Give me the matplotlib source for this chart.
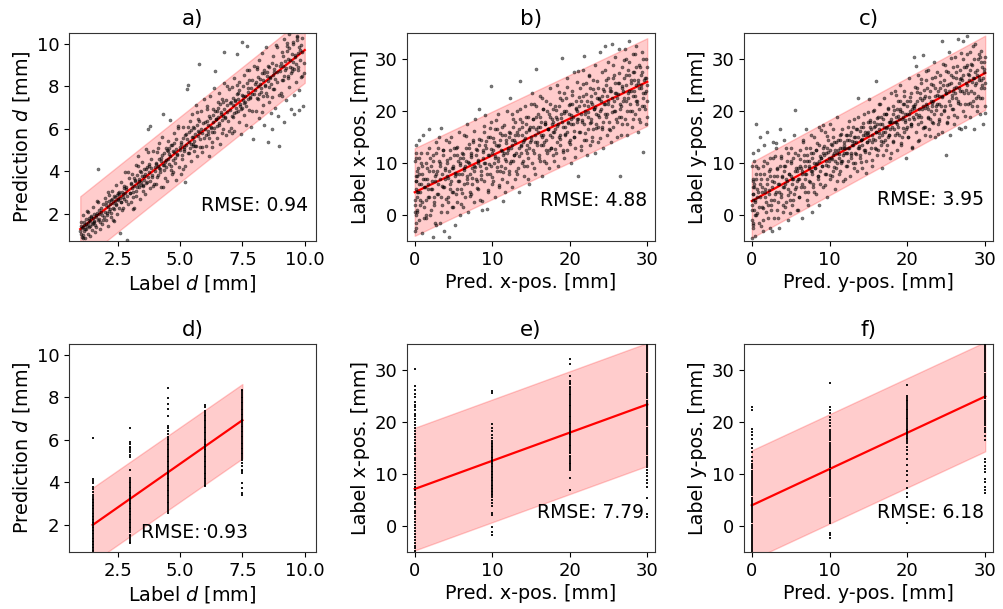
import matplotlib
matplotlib.use("Agg")
import matplotlib.pyplot as plt
import numpy as np

plt.rcParams['font.family'] = ['DejaVu Sans']

# ---------------- data: panel a (label d vs predicted d) ----------------
a_x = [1.02, 1.05, 1.07, 1.10, 1.13, 1.16, 1.19, 1.22, 1.25, 1.28, 1.31, 1.34, 1.38, 1.41, 1.45, 1.48, 1.52, 1.55, 1.58, 1.62, 1.65, 1.69, 1.72, 1.75, 1.79, 1.83, 1.87, 1.91, 1.95, 1.98,
       2.02, 2.05, 2.08, 2.12, 2.15, 2.18, 2.22, 2.25, 2.28, 2.32, 2.35, 2.38, 2.42, 2.45, 2.48, 2.52, 2.55, 2.58, 2.62, 2.65, 2.68, 2.72, 2.75, 2.78, 2.82, 2.85, 2.88, 2.92, 2.95, 2.98,
       3.02, 3.05, 3.08, 3.12, 3.15, 3.18, 3.22, 3.25, 3.28, 3.32, 3.35, 3.38, 3.42, 3.45, 3.48, 3.52, 3.55, 3.58, 3.62, 3.65, 3.68, 3.72, 3.75, 3.78, 3.80, 3.84, 3.88, 3.91, 3.95, 3.98,
       4.02, 4.05, 4.08, 4.12, 4.15, 4.18, 4.22, 4.25, 4.28, 4.32, 4.35, 4.38, 4.42, 4.45, 4.48, 4.52, 4.55, 4.58, 4.62, 4.65, 4.68, 4.72, 4.75, 4.78, 4.82, 4.85, 4.88, 4.92, 4.95, 4.98,
       5.02, 5.05, 5.08, 5.12, 5.15, 5.18, 5.21, 5.25, 5.28, 5.31, 5.35, 5.38, 5.42, 5.45, 5.48, 5.52, 5.55, 5.58, 5.62, 5.65, 5.68, 5.72, 5.75, 5.78, 5.81, 5.85, 5.88, 5.91, 5.95, 5.98,
       6.02, 6.05, 6.08, 6.12, 6.15, 6.18, 6.22, 6.25, 6.28, 6.32, 6.35, 6.38, 6.42, 6.45, 6.48, 6.52, 6.55, 6.58, 6.62, 6.65, 6.68, 6.72, 6.75, 6.78, 6.81, 6.85, 6.88, 6.91, 6.95, 6.98,
       7.02, 7.05, 7.08, 7.12, 7.15, 7.18, 7.22, 7.25, 7.28, 7.32, 7.35, 7.38, 7.42, 7.45, 7.48, 7.52, 7.55, 7.58, 7.62, 7.65, 7.68, 7.72, 7.75, 7.78, 7.81, 7.85, 7.88, 7.91, 7.95, 7.98,
       8.02, 8.05, 8.08, 8.12, 8.15, 8.18, 8.22, 8.25, 8.28, 8.32, 8.35, 8.38, 8.42, 8.45, 8.48, 8.52, 8.55, 8.58, 8.62, 8.65, 8.68, 8.72, 8.75, 8.78, 8.81, 8.85, 8.88, 8.91, 8.95, 8.98,
       9.02, 9.05, 9.08, 9.12, 9.15, 9.18, 9.22, 9.25, 9.28, 9.32, 9.35, 9.38, 9.42, 9.45, 9.48, 9.52, 9.55, 9.58, 9.62, 9.65, 9.68, 9.72, 9.75, 9.78, 9.81, 9.85, 9.88, 9.91, 9.95, 9.98]
a_y = [1.05, 1.62, 0.92, 1.40, 1.95, 1.18, 0.85, 1.55, 1.30, 2.15, 1.08, 1.70, 1.45, 0.98, 1.88, 1.25, 2.35, 1.60, 1.15, 1.95, 1.40, 2.60, 4.10, 1.75, 1.30, 2.10, 1.55, 2.45, 1.85, 2.75,
       1.70, 2.55, 2.05, 1.45, 2.90, 2.25, 1.85, 2.65, 3.10, 2.30, 1.65, 2.80, 2.45, 3.35, 2.00, 2.70, 3.05, 1.10, 2.55, 3.50, 2.20, 2.95, 3.30, 3.95, 2.60, 3.15, 0.78, 2.45, 3.70, 3.00,
       3.40, 2.55, 3.90, 3.05, 2.30, 3.60, 4.30, 2.85, 3.25, 4.70, 3.55, 2.70, 3.95, 3.35, 4.45, 3.10, 3.80, 2.95, 4.10, 5.05, 3.50, 6.00, 4.25, 3.20, 6.15, 4.60, 3.75, 4.95, 3.40, 4.20,
       4.35, 3.40, 4.90, 3.85, 5.35, 4.10, 3.25, 4.65, 5.60, 6.70, 4.30, 3.70, 5.10, 4.55, 3.55, 5.45, 4.80, 6.40, 4.05, 5.25, 3.90, 4.95, 5.80, 4.40, 3.60, 5.50, 4.75, 6.05, 4.20, 5.15,
       3.90, 5.40, 4.60, 6.10, 5.05, 4.25, 3.50, 5.75, 7.85, 8.05, 4.85, 6.35, 5.30, 4.50, 6.70, 5.60, 4.95, 6.05, 5.20, 7.10, 4.70, 6.45, 5.85, 9.05, 5.15, 6.85, 4.90, 6.25, 5.55, 7.40,
       6.30, 5.20, 7.05, 5.75, 6.60, 4.70, 7.55, 6.05, 5.40, 6.95, 7.90, 5.85, 8.70, 6.45, 5.55, 7.25, 6.20, 7.70, 5.30, 6.80, 7.40, 6.00, 8.15, 9.60, 6.55, 5.70, 7.10, 6.35, 7.85, 5.90,
       7.20, 6.05, 7.95, 6.55, 8.40, 5.90, 7.35, 6.80, 9.50, 7.70, 6.30, 8.20, 7.05, 5.75, 10.10, 7.55, 6.65, 8.55, 7.25, 6.20, 9.90, 7.90, 6.90, 8.75, 7.45, 6.10, 8.30, 5.50, 7.65, 8.95,
       8.10, 6.85, 8.80, 7.40, 9.25, 6.50, 8.35, 7.75, 9.55, 7.10, 8.60, 6.20, 8.00, 9.85, 7.55, 5.40, 8.90, 7.25, 8.45, 6.75, 6.00, 9.40, 7.85, 8.65, 7.00, 9.95, 8.20, 6.60, 7.60, 5.20,
       8.95, 7.70, 9.60, 8.30, 10.20, 6.30, 8.75, 7.35, 9.90, 8.50, 10.45, 7.95, 9.25, 6.95, 8.85, 10.10, 7.60, 6.70, 9.45, 8.20, 10.35, 8.90, 7.80, 6.90, 9.70, 8.45, 10.25, 7.05, 9.10, 8.60]
# second batch: the dense core close to the fit line
a_x2 = [1.01, 1.04, 1.07, 1.11, 1.14, 1.17, 1.21, 1.24, 1.27, 1.31, 1.34, 1.37, 1.41, 1.44, 1.47, 1.51, 1.54, 1.57, 1.61, 1.64, 1.67, 1.71, 1.74, 1.77, 1.81, 1.84, 1.87,
        2.01, 2.04, 2.07, 2.11, 2.14, 2.17, 2.21, 2.24, 2.27, 2.31, 2.34, 2.37, 2.41, 2.44, 2.47, 2.51, 2.54, 2.57, 2.61, 2.64, 2.67, 2.71, 2.74, 2.77, 2.81, 2.84, 2.87,
        3.01, 3.04, 3.07, 3.11, 3.14, 3.17, 3.21, 3.24, 3.27, 3.31, 3.34, 3.37, 3.41, 3.44, 3.47, 3.51, 3.54, 3.57, 3.61, 3.64, 3.67, 3.71, 3.74, 3.77, 3.81, 3.84, 3.87,
        4.01, 4.04, 4.07, 4.11, 4.14, 4.17, 4.21, 4.24, 4.27, 4.31, 4.34, 4.37, 4.41, 4.44, 4.47, 4.51, 4.54, 4.57, 4.61, 4.64, 4.67, 4.71, 4.74, 4.77, 4.81, 4.84, 4.87,
        5.01, 5.04, 5.07, 5.11, 5.14, 5.17, 5.21, 5.24, 5.27, 5.31, 5.34, 5.37, 5.41, 5.44, 5.47, 5.51, 5.54, 5.57, 5.61, 5.64, 5.67, 5.71, 5.74, 5.77, 5.81, 5.84, 5.87,
        6.01, 6.04, 6.07, 6.11, 6.14, 6.17, 6.21, 6.24, 6.27, 6.31, 6.34, 6.37, 6.41, 6.44, 6.47, 6.51, 6.54, 6.57, 6.61, 6.64, 6.67, 6.71, 6.74, 6.77, 6.81, 6.84, 6.87,
        7.01, 7.04, 7.07, 7.11, 7.14, 7.17, 7.21, 7.24, 7.27, 7.31, 7.34, 7.37, 7.41, 7.44, 7.47, 7.51, 7.54, 7.57, 7.61, 7.64, 7.67, 7.71, 7.74, 7.77, 7.81, 7.84, 7.87,
        8.01, 8.04, 8.07, 8.11, 8.14, 8.17, 8.21, 8.24, 8.27, 8.31, 8.34, 8.37, 8.41, 8.44, 8.47, 8.51, 8.54, 8.57, 8.61, 8.64, 8.67, 8.71, 8.74, 8.77, 8.81, 8.84, 8.87,
        9.01, 9.04, 9.07, 9.11, 9.14, 9.17, 9.21, 9.24, 9.27, 9.31, 9.34, 9.37, 9.41, 9.44, 9.47, 9.51, 9.54, 9.57, 9.61, 9.64, 9.67, 9.71, 9.74, 9.77, 9.81, 9.84, 9.87]
a_y2 = [1.20, 1.45, 1.35, 1.02, 1.60, 1.50, 1.28, 1.75, 1.42, 1.58, 1.80, 1.38, 1.68, 1.90, 1.52, 1.82, 1.65, 2.00, 1.48, 1.85, 2.05, 1.72, 1.98, 2.20, 1.62, 2.30, 1.95,
        2.10, 2.40, 1.95, 2.35, 2.60, 2.15, 2.45, 2.05, 2.70, 2.50, 2.25, 2.85, 2.60, 2.40, 2.90, 2.65, 2.30, 2.95, 2.75, 2.55, 3.05, 2.80, 3.20, 2.70, 3.00, 3.25, 2.85,
        3.00, 3.45, 3.20, 2.80, 3.70, 3.30, 3.55, 3.10, 3.85, 3.40, 3.65, 3.25, 4.00, 3.50, 3.80, 3.35, 4.10, 3.60, 3.90, 3.45, 4.20, 3.75, 4.35, 3.95, 3.55, 4.15, 3.85,
        4.00, 4.40, 3.75, 4.25, 4.60, 4.15, 3.95, 4.50, 4.75, 4.30, 4.05, 4.85, 4.45, 4.20, 5.00, 4.60, 4.35, 5.10, 4.70, 4.25, 5.25, 4.55, 4.90, 5.35, 4.65, 5.05, 4.80,
        5.00, 5.30, 4.75, 5.55, 5.15, 4.95, 5.70, 5.25, 5.50, 4.85, 5.85, 5.40, 5.10, 5.95, 5.60, 5.30, 6.10, 5.45, 5.75, 5.20, 6.20, 5.65, 5.90, 6.35, 5.50, 6.00, 5.80,
        6.00, 5.70, 6.35, 5.90, 6.20, 5.55, 6.50, 6.10, 5.85, 6.65, 6.30, 6.05, 6.85, 6.45, 6.15, 7.00, 6.55, 6.25, 7.15, 6.70, 6.40, 7.25, 6.60, 6.95, 6.50, 7.35, 6.80,
        6.90, 7.25, 6.60, 7.10, 7.45, 6.75, 7.30, 7.00, 7.65, 6.85, 7.40, 7.80, 7.15, 6.95, 7.60, 7.35, 8.00, 7.20, 7.55, 7.05, 8.15, 7.75, 7.40, 8.30, 7.50, 7.90, 7.65,
        7.80, 8.20, 7.45, 8.00, 8.45, 7.65, 8.10, 7.90, 8.60, 7.55, 8.30, 8.75, 8.05, 7.70, 8.50, 8.25, 8.95, 7.95, 8.40, 8.10, 9.10, 8.55, 7.85, 8.80, 8.35, 9.00, 8.65,
        8.70, 9.10, 8.30, 8.95, 9.40, 8.50, 9.20, 8.85, 9.65, 8.40, 9.30, 9.80, 8.90, 8.60, 9.50, 9.15, 10.00, 8.80, 9.35, 9.05, 10.15, 9.55, 8.75, 9.85, 9.25, 9.95, 9.60]
# third batch: mid spread
a_x3 = [1.1, 1.3, 1.5, 1.7, 1.9, 2.1, 2.3, 2.5, 2.7, 2.9, 3.1, 3.3, 3.5, 3.7, 3.9, 4.1, 4.3, 4.5, 4.7, 4.9, 5.1, 5.3, 5.5, 5.7, 5.9,
        6.1, 6.3, 6.5, 6.7, 6.9, 7.1, 7.3, 7.5, 7.7, 7.9, 8.1, 8.3, 8.5, 8.7, 8.9, 9.1, 9.3, 9.5, 9.7, 9.9]
a_y3 = [0.89, 2.07, 1.56, 2.55, 1.73, 3.02, 1.71, 2.99, 2.28, 3.97, 2.25, 4.24, 3.33, 4.91, 3.30, 5.09, 3.27, 4.96, 3.95, 6.13,
        4.12, 6.10, 5.19, 6.78, 5.16, 6.95, 5.14, 6.82, 5.81, 8.00, 5.78, 8.07, 6.96, 8.74, 6.83, 8.92, 6.80, 8.69, 7.48, 9.86,
        7.55, 10.04, 8.72, 10.31, 8.50]
a_fit_x = [1.0, 10.0]
a_fit_y = [1.29, 9.70]
a_band_lo = [-0.25, 8.16]
a_band_hi = [2.83, 11.24]

# ---------------- data: panel b (pred x-pos vs label x-pos) ----------------
b_x = [0.05, 0.1, 0.15, 0.2, 0.3, 0.35, 0.4, 0.5, 0.55, 0.6, 0.7, 0.8, 0.9, 1.0, 1.1, 1.2, 1.3, 1.4, 1.5, 1.6, 1.7, 1.8, 1.9, 2.0, 2.1, 2.2, 2.3, 2.4, 2.5, 2.6, 2.7, 2.8, 2.9,
       3.0, 3.1, 3.2, 3.3, 3.4, 3.5, 3.6, 3.7, 3.8, 3.9, 4.0, 4.1, 4.2, 4.3, 4.4, 4.5, 4.6, 4.7, 4.8, 4.9, 5.0, 5.1, 5.2, 5.3, 5.4, 5.5, 5.6, 5.7, 5.8, 5.9,
       6.0, 6.1, 6.2, 6.3, 6.4, 6.5, 6.6, 6.7, 6.8, 6.9, 7.0, 7.1, 7.2, 7.3, 7.4, 7.5, 7.6, 7.7, 7.8, 7.9, 8.0, 8.1, 8.2, 8.3, 8.4, 8.5, 8.6, 8.7, 8.8, 8.9,
       9.0, 9.1, 9.2, 9.3, 9.4, 9.5, 9.6, 9.7, 9.8, 9.9, 10.0, 10.1, 10.2, 10.3, 10.4, 10.5, 10.6, 10.7, 10.8, 10.9, 11.0, 11.1, 11.2, 11.3, 11.4, 11.5, 11.6, 11.7, 11.8, 11.9,
       12.0, 12.1, 12.2, 12.3, 12.4, 12.5, 12.6, 12.7, 12.8, 12.9, 13.0, 13.1, 13.2, 13.3, 13.4, 13.5, 13.6, 13.7, 13.8, 13.9, 14.0, 14.1, 14.2, 14.3, 14.4, 14.5, 14.6, 14.7, 14.8, 14.9,
       15.0, 15.1, 15.2, 15.3, 15.4, 15.5, 15.6, 15.7, 15.8, 15.9, 16.0, 16.1, 16.2, 16.3, 16.4, 16.5, 16.6, 16.7, 16.8, 16.9, 17.0, 17.1, 17.2, 17.3, 17.4, 17.5, 17.6, 17.7, 17.8, 17.9,
       18.0, 18.1, 18.2, 18.3, 18.4, 18.5, 18.6, 18.7, 18.8, 18.9, 19.0, 19.1, 19.2, 19.3, 19.4, 19.5, 19.6, 19.7, 19.8, 19.9, 20.0, 20.1, 20.2, 20.3, 20.4, 20.5, 20.6, 20.7, 20.8, 20.9,
       21.0, 21.1, 21.2, 21.3, 21.4, 21.5, 21.6, 21.7, 21.8, 21.9, 22.0, 22.1, 22.2, 22.3, 22.4, 22.5, 22.6, 22.7, 22.8, 22.9, 23.0, 23.1, 23.2, 23.3, 23.4, 23.5, 23.6, 23.7, 23.8, 23.9,
       24.0, 24.1, 24.2, 24.3, 24.4, 24.5, 24.6, 24.7, 24.8, 24.9, 25.0, 25.1, 25.2, 25.3, 25.4, 25.5, 25.6, 25.7, 25.8, 25.9, 26.0, 26.1, 26.2, 26.3, 26.4, 26.5, 26.6, 26.7, 26.8, 26.9,
       27.0, 27.1, 27.2, 27.3, 27.4, 27.5, 27.6, 27.7, 27.8, 27.9, 28.0, 28.1, 28.2, 28.3, 28.4, 28.5, 28.6, 28.7, 28.8, 28.9, 29.0, 29.1, 29.2, 29.3, 29.4, 29.5, 29.6, 29.7, 29.8, 29.9,
       29.95, 30.0, 29.97]
b_y = [2.0, 7.5, -2.5, 11.0, 4.5, 0.5, 9.0, 14.5, -1.0, 6.0, 3.0, 12.0, -3.5, 8.0, 15.5, 1.5, 5.5, 10.0, -0.5, 7.0, 3.5, 13.0, 16.5, 0.0, 9.5, 5.0, -4.2, 11.5, 2.5, 6.5, 14.0, -2.0, 8.5,
       4.0, 10.5, -1.5, 7.0, 16.8, 2.0, 12.5, 5.5, -3.0, 9.0, 14.5, 0.5, 7.5, 3.5, -4.3, 11.0, 6.0, 15.0, 1.5, 9.5, 4.5, 13.0, -2.0, 8.0, 2.5, 11.5, 6.5, 16.0, 0.0, 10.0,
       5.0, 12.0, 1.5, 9.0, 15.5, 3.5, 10.5, 7.0, 17.5, 0.5, 13.0, 8.0, 4.0, 11.5, 6.0, 14.0, 2.5, 9.5, 18.5, 7.0, 12.5, 5.0, 10.0, 20.5, 3.0, 14.5, 8.5, 1.0, 11.0, 16.0,
       6.5, 13.5, 9.0, 1.2, 15.0, 4.5, 11.5, 8.0, 18.0, 24.9, 6.0, 12.5, 10.0, 16.5, 3.5, 13.5, 8.5, 19.5, 11.0, 5.5, 14.5, 9.5, 17.0, 7.0, 2.8, 12.0, 15.5, 4.5, 10.5, 20.0,
       13.0, 8.0, 16.0, 22.5, 10.5, 5.5, 14.5, 18.5, 11.5, 7.0, 15.5, 12.0, 20.0, 9.0, 16.5, 4.5, 25.8, 13.5, 10.0, 18.0, 14.0, 7.5, 21.0, 12.5, 16.0, 9.5, 19.0, 13.0, 6.0, 17.0,
       15.0, 10.0, 18.5, 12.5, 21.5, 8.0, 16.5, 28.1, 14.0, 19.5, 11.0, 17.0, 23.0, 13.5, 7.5, 15.5, 20.5, 10.5, 18.0, 14.5, 22.0, 12.0, 16.5, 9.0, 19.0, 24.5, 13.0, 17.5, 11.5, 20.5,
       16.0, 21.0, 12.0, 18.5, 25.0, 9.5, 15.0, 22.5, 13.5, 19.5, 30.3, 17.0, 11.0, 23.5, 15.5, 20.0, 26.5, 12.5, 18.0, 14.0, 21.5, 17.5, 10.0, 24.0, 19.0, 15.0, 27.5, 13.0, 22.0, 18.5,
       20.0, 7.6, 16.0, 24.5, 12.5, 22.0, 18.0, 28.0, 14.5, 30.6, 19.5, 25.5, 11.5, 21.0, 16.5, 27.0, 13.5, 23.0, 18.5, 15.0, 26.0, 20.5, 12.0, 29.0, 17.5, 22.5, 14.0, 24.5, 19.0, 31.5,
       22.0, 16.5, 27.5, 13.0, 24.0, 32.5, 19.5, 26.0, 15.5, 21.5, 29.5, 18.0, 24.5, 14.0, 33.0, 22.5, 17.0, 27.0, 20.0, 30.5, 23.5, 15.0, 25.5, 19.0, 32.0, 7.6, 21.0, 28.5, 17.5, 24.0,
       26.5, 18.5, 30.0, 22.0, 15.5, 28.0, 24.0, 33.5, 20.0, 26.0, 17.0, 31.0, 23.0, 27.5, 19.5, 25.0, 32.5, 21.5, 16.0, 29.0, 24.5, 18.0, 27.0, 31.5, 22.5, 12.1, 26.0, 20.5, 30.0, 17.5,
       25.0, 22.0, 28.5]
# second batch (core + points piled at the left edge)
b_x2 = [0.02, 0.08, 0.12, 0.18, 0.22, 0.25, 0.28, 0.03, 0.10, 0.15,
        0.05, 0.2, 0.35, 0.5, 0.65, 0.8, 0.95, 1.1, 1.25, 1.4, 1.55, 1.7, 1.85, 2.0, 2.15, 2.3, 2.45, 2.6, 2.75, 2.9,
        3.05, 3.2, 3.35, 3.5, 3.65, 3.8, 3.95, 4.1, 4.25, 4.4, 4.55, 4.7, 4.85, 5.0, 5.15, 5.3, 5.45, 5.6, 5.75, 5.9,
        6.05, 6.2, 6.35, 6.5, 6.65, 6.8, 6.95, 7.1, 7.25, 7.4, 7.55, 7.7, 7.85, 8.0, 8.15, 8.3, 8.45, 8.6, 8.75, 8.9,
        9.05, 9.2, 9.35, 9.5, 9.65, 9.8, 9.95, 10.1, 10.25, 10.4, 10.55, 10.7, 10.85, 11.0, 11.15, 11.3, 11.45, 11.6, 11.75, 11.9,
        12.05, 12.2, 12.35, 12.5, 12.65, 12.8, 12.95, 13.1, 13.25, 13.4, 13.55, 13.7, 13.85, 14.0, 14.15, 14.3, 14.45, 14.6, 14.75, 14.9,
        15.05, 15.2, 15.35, 15.5, 15.65, 15.8, 15.95, 16.1, 16.25, 16.4, 16.55, 16.7, 16.85, 17.0, 17.15, 17.3, 17.45, 17.6, 17.75, 17.9,
        18.05, 18.2, 18.35, 18.5, 18.65, 18.8, 18.95, 19.1, 19.25, 19.4, 19.55, 19.7, 19.85, 20.0, 20.15, 20.3, 20.45, 20.6, 20.75, 20.9,
        21.05, 21.2, 21.35, 21.5, 21.65, 21.8, 21.95, 22.1, 22.25, 22.4, 22.55, 22.7, 22.85, 23.0, 23.15, 23.3, 23.45, 23.6, 23.75, 23.9,
        24.05, 24.2, 24.35, 24.5, 24.65, 24.8, 24.95, 25.1, 25.25, 25.4, 25.55, 25.7, 25.85, 26.0, 26.15, 26.3, 26.45, 26.6, 26.75, 26.9,
        27.05, 27.2, 27.35, 27.5, 27.65, 27.8, 27.95, 28.1, 28.25, 28.4, 28.55, 28.7, 28.85, 29.0, 29.15, 29.3, 29.45, 29.6, 29.75, 29.9]
b_y2 = [-3.0, 10.5, 5.0, -1.5, 13.5, 3.5, 8.5, 0.5, 12.0, 6.5,
        3.0, 6.5, 1.0, 8.0, 4.5, 10.0, 2.5, 7.0, 5.5, 0.0, 9.0, 6.0, 3.5, 11.0, 5.0, 8.5, 2.0, 7.5, 12.0, 4.0,
        6.0, 9.5, 3.5, 8.0, 11.5, 5.5, 7.0, 10.0, 2.5, 8.5, 12.5, 6.5, 4.5, 9.0, 7.5, 13.0, 5.0, 10.5, 8.0, 11.0,
        8.0, 11.0, 6.0, 9.5, 13.0, 7.5, 10.0, 4.5, 12.0, 9.0, 14.5, 8.5, 11.5, 6.5, 10.5, 13.5, 9.5, 7.0, 12.5, 10.0,
        10.0, 13.0, 8.0, 11.5, 15.0, 9.5, 12.0, 6.5, 14.0, 11.0, 16.5, 10.5, 13.5, 8.5, 12.5, 15.5, 11.5, 9.0, 14.5, 12.0,
        12.5, 15.0, 10.0, 13.5, 17.0, 11.5, 14.0, 8.5, 16.0, 13.0, 18.5, 12.0, 15.5, 10.5, 14.5, 17.5, 13.5, 11.0, 16.5, 14.0,
        14.5, 17.0, 12.0, 15.5, 19.0, 13.5, 16.0, 10.5, 18.0, 15.0, 20.5, 14.0, 17.5, 12.5, 16.5, 19.5, 15.5, 13.0, 18.5, 16.0,
        16.5, 19.0, 14.0, 17.5, 21.0, 15.5, 18.0, 12.5, 20.0, 17.0, 22.5, 16.0, 19.5, 14.5, 18.5, 21.5, 17.5, 15.0, 20.5, 18.0,
        18.5, 21.0, 16.0, 19.5, 23.0, 17.5, 20.0, 14.5, 22.0, 19.0, 24.5, 18.0, 21.5, 16.5, 20.5, 23.5, 19.5, 17.0, 22.5, 20.0,
        20.5, 23.0, 18.0, 21.5, 25.0, 19.5, 22.0, 16.5, 24.0, 21.0, 26.5, 20.0, 23.5, 18.5, 22.5, 25.5, 21.5, 19.0, 24.5, 22.0,
        22.5, 25.0, 20.0, 23.5, 27.0, 21.5, 24.0, 18.5, 26.0, 23.0, 28.5, 22.0, 25.5, 20.5, 24.5, 27.5, 23.5, 21.0, 26.5, 24.0]
# third batch (wider spread)
b_x3 = [0.1, 0.25, 0.4, 0.55, 0.7, 0.85, 1.0, 1.15, 1.3, 1.45, 1.6, 1.75, 1.9, 2.05, 2.2, 2.35, 2.5, 2.65, 2.8, 2.95,
        3.1, 3.25, 3.4, 3.55, 3.7, 3.85, 4.0, 4.15, 4.3, 4.45, 4.6, 4.75, 4.9, 5.05, 5.2, 5.35, 5.5, 5.65, 5.8, 5.95,
        6.1, 6.25, 6.4, 6.55, 6.7, 6.85, 7.0, 7.15, 7.3, 7.45, 7.6, 7.75, 7.9, 8.05, 8.2, 8.35, 8.5, 8.65, 8.8, 8.95,
        9.1, 9.25, 9.4, 9.55, 9.7, 9.85, 10.0, 10.15, 10.3, 10.45, 10.6, 10.75, 10.9, 11.05, 11.2, 11.35, 11.5, 11.65, 11.8, 11.95,
        12.1, 12.25, 12.4, 12.55, 12.7, 12.85, 13.0, 13.15, 13.3, 13.45, 13.6, 13.75, 13.9, 14.05, 14.2, 14.35, 14.5, 14.65, 14.8, 14.95,
        15.1, 15.25, 15.4, 15.55, 15.7, 15.85, 16.0, 16.15, 16.3, 16.45, 16.6, 16.75, 16.9, 17.05, 17.2, 17.35, 17.5, 17.65, 17.8, 17.95,
        18.1, 18.25, 18.4, 18.55, 18.7, 18.85, 19.0, 19.15, 19.3, 19.45, 19.6, 19.75, 19.9, 20.05, 20.2, 20.35, 20.5, 20.65, 20.8, 20.95,
        21.1, 21.25, 21.4, 21.55, 21.7, 21.85, 22.0, 22.15, 22.3, 22.45, 22.6, 22.75, 22.9, 23.05, 23.2, 23.35, 23.5, 23.65, 23.8, 23.95,
        24.1, 24.25, 24.4, 24.55, 24.7, 24.85, 25.0, 25.15, 25.3, 25.45, 25.6, 25.75, 25.9, 26.05, 26.2, 26.35, 26.5, 26.65, 26.8, 26.95,
        27.1, 27.25, 27.4, 27.55, 27.7, 27.85, 28.0, 28.15, 28.3, 28.45, 28.6, 28.75, 28.9, 29.05, 29.2, 29.35, 29.5, 29.65, 29.8, 29.95]
b_y3 = [0.0, 7.5, 4.5, 11.0, 2.0, 6.0, 9.5, -0.5, 7.0, 3.0, 12.0, 5.0, 8.5, 1.0, 6.5, 10.5, 3.5, -1.5, 8.0, 13.0,
        15.1, 10.1, 0.6, 5.6, 12.6, 8.6, 3.1, 10.6, 7.1, 14.1, 5.1, 9.1, 1.6, 11.6, 8.1, 4.1, 13.1, 6.6, 9.6, 2.1,
        4.2, 11.7, 8.7, 15.2, 6.2, 10.2, 13.7, 3.7, 11.2, 7.2, 16.2, 9.2, 12.7, 5.2, 10.7, 14.7, 7.7, 2.7, 12.2, 17.2,
        19.3, 14.3, 4.8, 9.8, 16.8, 12.8, 7.3, 14.8, 11.3, 18.3, 9.3, 13.3, 5.8, 15.8, 12.3, 8.3, 17.3, 10.8, 13.8, 6.3,
        8.4, 15.9, 12.9, 19.4, 10.4, 14.4, 17.9, 7.9, 15.4, 11.4, 20.4, 13.4, 16.9, 9.4, 14.9, 18.9, 11.9, 6.9, 16.4, 21.4,
        23.5, 18.5, 9.0, 14.0, 21.0, 17.0, 11.5, 19.0, 15.5, 22.5, 13.5, 17.5, 10.0, 20.0, 16.5, 12.5, 21.5, 15.0, 18.0, 10.5,
        12.7, 20.2, 17.2, 23.7, 14.7, 18.7, 22.2, 12.2, 19.7, 15.7, 24.7, 17.7, 21.2, 13.7, 19.2, 23.2, 16.2, 11.2, 20.7, 25.7,
        27.8, 22.8, 13.3, 18.3, 25.3, 21.3, 15.8, 23.3, 19.8, 26.8, 17.8, 21.8, 14.3, 24.3, 20.8, 16.8, 25.8, 19.3, 22.3, 14.8,
        16.9, 24.4, 21.4, 27.9, 18.9, 22.9, 26.4, 16.4, 23.9, 19.9, 28.9, 21.9, 25.4, 17.9, 23.4, 27.4, 20.4, 15.4, 24.9, 29.9,
        32.0, 27.0, 17.5, 22.5, 29.5, 25.5, 20.0, 27.5, 24.0, 31.0, 22.0, 26.0, 18.5, 28.5, 25.0, 21.0, 30.0, 23.5, 26.5, 19.0]
b_fit_x = [0.0, 30.0]
b_fit_y = [4.4, 25.7]
b_band_lo = [-4.0, 17.2]
b_band_hi = [12.9, 34.1]

# ---------------- data: panel c (pred y-pos vs label y-pos) ----------------
c_x = list(b_x)
c_y = [1.0, 6.5, -2.0, 4.0, 10.5, -4.0, 2.5, 17.5, 8.0, 0.0, 5.0, 12.5, -1.5, 3.5, 15.0, 7.0, 1.5, 9.5, -3.0, 13.5, 4.5, 0.5, 6.0, 16.0, 2.0, 8.5, -2.5, 11.0, 3.0, 5.5, 14.0, -0.5, 7.5,
       4.0, 13.0, 1.0, 9.0, 6.0, -2.5, 16.5, 3.5, 11.0, 7.5, 0.5, 5.5, 14.5, 9.5, 2.5, 6.5, 12.0, -1.0, 8.0, 4.5, 13.0, 10.0, 2.0, 7.0, 15.5, 20.3, 5.0, 9.0, 1.0, 11.5,
       7.0, 3.5, 12.5, 9.0, -0.5, 6.0, 14.0, 10.5, 4.5, 8.0, 16.5, 11.5, 2.0, 9.5, 6.5, 13.0, 8.5, 0.5, 11.0, 5.5, 15.0, 9.0, 12.5, 4.0, 10.0, 7.5, 17.0, 13.5, 6.0, 11.0,
       9.5, 13.0, 5.5, 11.5, 16.0, 8.0, 12.0, 3.5, 14.5, 10.5, 7.0, 17.5, 11.0, 13.5, 8.5, 15.0, 12.0, 5.0, 14.0, 10.0, 19.0, 12.5, 8.0, 15.5, 13.0, 10.5, 16.5, 6.5, 14.0, 12.0,
       13.0, 15.5, 9.5, 12.0, 17.0, 14.5, 7.5, 11.5, 16.0, 13.5, 10.0, 18.5, 14.0, 12.0, 16.5, 8.5, 15.0, 22.5, 13.0, 11.0, 17.0, 14.5, 9.0, 15.5, 19.5, 12.5, 16.0, 10.5, 14.0, 18.0,
       15.5, 12.0, 18.0, 16.5, 9.5, 14.0, 20.0, 17.0, 13.0, 25.8, 16.0, 11.5, 19.0, 15.0, 21.5, 17.5, 13.5, 9.0, 18.5, 16.0, 22.5, 14.5, 19.5, 12.5, 17.0, 20.5, 15.5, 11.0, 18.0, 23.5,
       18.0, 14.0, 21.0, 16.5, 24.0, 19.0, 12.5, 17.5, 22.0, 15.5, 20.5, 25.0, 13.5, 18.5, 21.5, 16.0, 23.0, 19.5, 11.0, 17.0, 22.0, 15.0, 26.5, 20.0, 17.5, 23.5, 13.0, 21.0, 30.5, 18.5,
       21.5, 16.0, 24.5, 19.0, 27.0, 14.5, 22.5, 18.0, 25.5, 20.5, 30.8, 17.0, 23.0, 15.5, 26.0, 21.0, 19.0, 28.0, 16.5, 24.0, 20.0, 26.5, 18.0, 22.0, 29.5, 15.0, 24.5, 21.0, 27.5, 17.5,
       23.0, 18.5, 27.0, 21.0, 33.5, 16.0, 25.0, 20.0, 29.0, 11.5, 23.5, 18.0, 27.5, 22.0, 31.5, 15.5, 25.5, 20.5, 28.5, 24.0, 17.5, 30.5, 22.5, 26.5, 19.0, 34.0, 24.5, 21.5, 28.0, 16.5,
       26.0, 20.0, 30.0, 23.5, 17.0, 28.5, 25.0, 34.5, 21.5, 27.0, 19.0, 31.5, 24.0, 29.0, 22.0, 26.5, 16.5, 33.0, 25.5, 21.0, 28.0, 23.0, 31.0, 19.5, 26.0, 29.5, 22.5, 17.5, 27.5, 24.5,
       21.0, 30.5, 25.5]
c_x2 = list(b_x2)
c_y2 = [-4.5, 9.5, 3.0, -2.5, 12.0, 1.0, 5.5, -1.0, 7.0, 4.0,
        2.0, 5.5, 0.0, 7.0, 3.5, 9.0, 1.5, 6.0, 4.5, -1.0, 8.0, 5.0, 2.5, 10.0, 4.0, 7.5, 1.0, 6.5, 11.0, 3.0,
        4.5, 7.5, 2.5, 6.0, 9.5, 4.0, 5.5, 8.5, 1.5, 7.0, 10.5, 5.0, 3.0, 7.5, 6.0, 11.0, 4.0, 8.5, 6.5, 9.0,
        7.0, 9.5, 5.5, 8.5, 11.5, 7.0, 8.0, 10.5, 4.5, 9.0, 12.0, 8.0, 6.0, 10.0, 9.0, 12.5, 7.5, 10.5, 8.5, 11.0,
        9.5, 12.0, 8.0, 10.5, 13.0, 9.5, 11.0, 12.5, 7.5, 11.5, 14.0, 10.5, 9.0, 12.0, 11.0, 14.5, 10.0, 13.0, 11.5, 13.5,
        12.0, 14.5, 10.5, 13.0, 15.5, 12.0, 13.5, 15.0, 10.0, 14.0, 16.5, 13.0, 11.5, 14.5, 13.5, 17.0, 12.5, 15.5, 14.0, 16.0,
        14.5, 17.0, 13.0, 15.5, 18.0, 14.5, 16.0, 17.5, 12.5, 16.5, 19.0, 15.5, 14.0, 17.0, 16.0, 19.5, 15.0, 18.0, 16.5, 18.5,
        17.0, 19.5, 15.5, 18.0, 20.5, 17.0, 18.5, 20.0, 15.0, 19.0, 21.5, 18.0, 16.5, 19.5, 18.5, 22.0, 17.5, 20.5, 19.0, 21.0,
        19.5, 22.0, 17.5, 20.5, 23.5, 19.0, 21.0, 22.5, 17.0, 21.5, 24.5, 20.5, 18.5, 22.0, 21.0, 25.0, 19.5, 23.0, 21.5, 24.0,
        21.5, 24.5, 19.5, 23.0, 26.0, 21.0, 23.5, 25.0, 19.0, 24.0, 27.0, 22.5, 20.5, 24.5, 23.5, 27.5, 22.0, 25.5, 24.0, 26.5,
        24.0, 27.0, 21.5, 25.5, 29.0, 23.5, 26.0, 28.0, 21.0, 26.5, 30.0, 25.0, 22.5, 27.0, 26.0, 30.5, 24.5, 28.5, 26.5, 29.5]
c_x3 = list(b_x3)
c_y3 = [-1.6, 5.9, 2.9, 9.4, 0.4, 4.4, 7.9, -2.1, 5.4, 1.4, 10.4, 3.4, 6.9, -0.6, 4.9, 8.9, 1.9, -3.1, 6.4, 11.4,
        13.9, 8.9, -0.6, 4.4, 11.4, 7.4, 1.9, 9.4, 5.9, 12.9, 3.9, 7.9, 0.4, 10.4, 6.9, 2.9, 11.9, 5.4, 8.4, 0.9,
        3.4, 10.9, 7.9, 14.4, 5.4, 9.4, 12.9, 2.9, 10.4, 6.4, 15.4, 8.4, 11.9, 4.4, 9.9, 13.9, 6.9, 1.9, 11.4, 16.4,
        17.3, 13.3, 5.7, 9.7, 15.3, 12.1, 7.7, 13.7, 10.9, 16.5, 9.3, 12.5, 6.5, 14.5, 11.7, 8.5, 15.7, 10.5, 12.9, 6.9,
        9.4, 15.4, 13.0, 18.2, 11.0, 14.2, 17.0, 9.0, 15.0, 11.8, 19.0, 13.4, 16.2, 10.2, 14.6, 17.8, 12.2, 8.2, 15.8, 19.8,
        22.3, 18.3, 10.7, 14.7, 20.3, 17.1, 12.7, 18.7, 15.9, 21.5, 14.3, 17.5, 11.5, 19.5, 16.7, 13.5, 20.7, 15.5, 17.9, 11.9,
        14.3, 20.3, 17.9, 23.1, 15.9, 19.1, 21.9, 13.9, 19.9, 16.7, 23.9, 18.3, 21.1, 15.1, 19.5, 22.7, 17.1, 13.1, 20.7, 24.7,
        28.7, 23.7, 14.2, 19.2, 26.2, 22.2, 16.7, 24.2, 20.7, 27.7, 18.7, 22.7, 15.2, 25.2, 21.7, 17.7, 26.7, 20.2, 23.2, 15.7,
        18.2, 25.7, 22.7, 29.2, 20.2, 24.2, 27.7, 17.7, 25.2, 21.2, 30.2, 23.2, 26.7, 19.2, 24.7, 28.7, 21.7, 16.7, 26.2, 31.2,
        33.6, 28.6, 19.1, 24.1, 31.1, 27.1, 21.6, 29.1, 25.6, 32.6, 23.6, 27.6, 20.1, 30.1, 26.6, 22.6, 31.6, 25.1, 28.1, 19.6]
c_fit_x = [0.0, 30.0]
c_fit_y = [2.7, 27.4]
c_band_lo = [-4.4, 20.3]
c_band_hi = [10.2, 34.6]

# ---------------- data: panel d (discrete label d) ----------------
d_levels = [1.5, 3.0, 4.5, 6.0, 7.5]
d_y_15 = [0.76, 0.83, 0.9, 0.98, 1.04, 1.12, 1.19, 1.26, 1.34, 1.41, 1.48, 1.56, 1.63, 1.7, 1.78, 1.85, 1.92, 2.0, 2.07, 2.14, 2.22, 2.29,
          2.36, 2.44, 2.51, 2.58, 2.66, 2.73, 2.8, 2.88, 2.95, 3.02, 3.1, 3.17, 3.24, 3.31, 3.42, 3.55, 3.68, 3.8, 3.95, 4.08, 4.15, 6.07]
d_y_30 = [1.14, 1.22, 1.3, 1.38, 1.47, 1.55, 1.66, 1.75, 1.84, 1.92, 2.0, 2.07, 2.15, 2.22, 2.3, 2.37, 2.45, 2.52, 2.6, 2.67, 2.75, 2.82,
          2.9, 2.97, 3.05, 3.12, 3.2, 3.27, 3.35, 3.42, 3.5, 3.57, 3.65, 3.72, 3.8, 3.87, 3.95, 4.02, 4.1, 4.2, 4.58, 5.18, 5.3, 5.42,
          5.5, 5.6, 5.68, 5.78, 5.88, 6.55]
d_y_45 = [2.55, 2.65, 2.75, 2.86, 2.94, 3.02, 3.1, 3.18, 3.26, 3.34, 3.42, 3.5, 3.58, 3.66, 3.74, 3.82, 3.9, 3.98, 4.06, 4.14, 4.22, 4.3,
          4.38, 4.46, 4.54, 4.62, 4.7, 4.78, 4.86, 4.94, 5.02, 5.1, 5.18, 5.26, 5.34, 5.42, 5.5, 5.58, 5.66, 5.74, 5.82, 5.9, 5.98, 6.06,
          6.14, 6.25, 6.4, 6.55, 6.65, 7.1, 7.45, 7.7, 7.95, 8.42]
d_y_60 = [1.8, 3.82, 3.9, 3.98, 4.06, 4.14, 4.22, 4.3, 4.38, 4.46, 4.54, 4.62, 4.7, 4.78, 4.86, 4.94, 5.02, 5.1, 5.18, 5.26, 5.34, 5.42,
          5.5, 5.58, 5.66, 5.74, 5.82, 5.9, 5.98, 6.06, 6.14, 6.22, 6.3, 6.38, 6.46, 6.54, 6.62, 6.7, 6.78, 6.86, 6.94, 7.02, 7.1, 7.18,
          7.26, 7.34, 7.55, 7.62]
d_y_75 = [3.42, 3.48, 3.72, 3.96, 4.45, 4.52, 4.6, 4.75, 4.9, 5.05, 5.15, 5.23, 5.31, 5.39, 5.47, 5.55, 5.63, 5.71, 5.79, 5.87, 5.95, 6.03,
          6.11, 6.19, 6.27, 6.35, 6.43, 6.51, 6.59, 6.67, 6.75, 6.83, 6.91, 6.99, 7.07, 7.15, 7.23, 7.31, 7.39, 7.47, 7.55, 7.63, 7.71,
          7.79, 7.87, 7.95, 8.03, 8.11, 8.19, 8.27, 8.34]
d_fit_x = [1.5, 7.5]
d_fit_y = [2.0, 6.92]
d_band_lo = [0.25, 5.12]
d_band_hi = [3.75, 8.62]

# ---------------- data: panel e (discrete pred x-pos) ----------------
e_levels = [0.0, 10.0, 20.0, 30.0]
e_y_0 = [-4.9, -4.3, -3.8, -3.2, -2.6, -2.1, -1.5, -0.9, -0.4, 0.2, 0.8, 1.3, 1.9, 2.5, 3.0, 3.6, 4.2, 4.7, 5.3, 5.9, 6.4, 7.0, 7.6,
         8.1, 8.7, 9.3, 9.8, 10.4, 11.0, 11.5, 12.1, 12.7, 13.2, 13.8, 14.4, 14.9, 15.5, 16.1, 16.6, 17.2, 17.8, 18.3, 18.9, 19.5, 20.0,
         20.6, 21.2, 21.7, 22.3, 22.9, 23.4, 24.0, 24.8, 25.5, 26.3, 27.0, 30.3]
e_y_10 = [-1.7, -1.2, -0.1, 2.1, 2.6, 3.8, 4.5, 5.0, 5.6, 5.9, 6.2, 6.5, 6.8, 7.1, 7.4, 7.7, 8.0, 8.3, 8.6, 8.9, 9.2, 9.5, 9.8, 10.1,
          10.4, 10.7, 11.0, 11.3, 11.6, 11.9, 12.2, 12.5, 12.8, 13.1, 13.4, 13.7, 14.0, 14.3, 14.6, 14.9, 15.2, 15.5, 15.8, 16.1, 16.4,
          17.0, 17.6, 18.3, 18.9, 19.7, 25.6, 26.1]
e_y_20 = [6.9, 9.2, 10.8, 11.2, 11.5, 11.9, 12.2, 12.6, 12.9, 13.3, 13.6, 14.0, 14.3, 14.7, 15.0, 15.4, 15.7, 16.1, 16.4, 16.8, 17.1,
          17.5, 17.8, 18.2, 18.5, 18.9, 19.2, 19.6, 19.9, 20.3, 20.6, 21.0, 21.3, 21.7, 22.0, 22.4, 22.7, 23.1, 23.4, 23.8, 24.1, 24.5,
          24.8, 25.2, 25.5, 25.9, 26.2, 26.6, 26.9, 27.3, 27.6, 28.0, 28.9, 31.3, 32.2]
e_y_30 = [1.8, 2.4, 5.4, 7.5, 8.3, 8.9, 9.6, 10.3, 10.9, 11.4, 11.8, 12.2, 12.6, 13.0, 13.4, 13.8, 14.2, 14.6, 15.0, 15.4, 15.8, 16.2,
          16.6, 17.0, 17.4, 17.8, 18.2, 18.6, 19.0, 19.4, 19.8, 20.2, 20.6, 21.0, 21.4, 21.8, 22.2, 22.6, 23.0, 23.4, 23.8, 24.2, 24.6,
          25.0, 25.4, 25.8, 26.2, 26.6, 27.0, 27.4, 27.8, 28.2, 28.6, 29.0, 29.4, 29.8, 30.2, 30.6, 31.0, 31.4, 31.8, 32.2, 32.6, 33.0,
          33.4, 33.8, 34.2, 34.6, 35.0]
e_fit_x = [0.0, 30.0]
e_fit_y = [7.15, 23.45]
e_band_lo = [-4.7, 11.6]
e_band_hi = [18.95, 35.3]

# ---------------- data: panel f (discrete pred y-pos) ----------------
f_levels = [0.0, 10.0, 20.0, 30.0]
f_y_0 = [-4.9, -4.5, -4.1, -3.7, -3.3, -2.9, -2.5, -2.1, -1.7, -1.3, -0.9, -0.5, -0.1, 0.3, 0.7, 1.1, 1.5, 1.9, 2.3, 2.7, 3.1, 3.5,
         3.9, 4.3, 4.7, 5.1, 5.5, 5.9, 6.3, 6.7, 7.1, 7.5, 7.9, 8.3, 8.7, 9.1, 9.5, 9.9, 10.3, 10.7, 11.1, 11.5, 11.9, 12.6, 13.4,
         14.2, 15.0, 15.9, 16.7, 17.5, 18.2, 18.8, 22.3, 22.9]
f_y_10 = [-2.3, -1.8, -1.3, 0.5, 0.9, 1.3, 1.7, 2.1, 2.5, 2.9, 3.3, 3.7, 4.1, 4.5, 4.9, 5.3, 5.7, 6.1, 6.5, 6.9, 7.3, 7.7, 8.1, 8.5,
          8.9, 9.3, 9.7, 10.1, 10.5, 10.9, 11.3, 11.7, 12.1, 12.5, 12.9, 13.3, 13.7, 14.1, 14.5, 14.9, 15.3, 15.7, 16.1, 16.5, 16.9,
          17.3, 17.7, 18.1, 18.5, 19.2, 19.8, 20.5, 21.1, 21.8, 22.4, 22.9, 27.6]
f_y_20 = [0.6, 5.6, 6.3, 7.4, 8.6, 9.8, 10.6, 11.7, 12.9, 13.8, 14.6, 15.3, 16.0, 16.35, 16.7, 17.05, 17.4, 17.75, 18.1, 18.45, 18.8,
          19.15, 19.5, 19.85, 20.2, 20.55, 20.9, 21.25, 21.6, 21.95, 22.3, 22.65, 23.0, 23.35, 23.7, 24.05, 24.4, 24.75, 25.1, 27.1]
f_y_30 = [6.4, 7.0, 7.6, 8.4, 9.0, 10.4, 11.0, 11.5, 12.3, 13.0, 16.5, 17.4, 18.2, 18.6, 19.0, 19.4, 19.8, 20.2, 20.6, 21.0, 21.4,
          21.8, 22.2, 22.6, 23.0, 23.4, 23.8, 24.2, 24.6, 25.0, 25.4, 25.8, 26.2, 26.6, 27.0, 27.4, 27.8, 28.2, 28.6, 29.0, 29.4, 29.8,
          30.2, 30.6, 31.0, 31.4, 31.8, 32.2, 32.6, 33.0, 33.4, 33.8, 34.2, 34.6, 35.0]
f_fit_x = [0.0, 30.0]
f_fit_y = [4.0, 25.0]
f_band_lo = [-6.5, 14.4]
f_band_hi = [14.6, 35.5]

rmse_values = [0.94, 4.88, 3.95, 0.93, 7.79, 6.18]
titles = ['a)', 'b)', 'c)', 'd)', 'e)', 'f)']
xlabels = ['Label $d$ [mm]', 'Pred. x-pos. [mm]', 'Pred. y-pos. [mm]',
           'Label $d$ [mm]', 'Pred. x-pos. [mm]', 'Pred. y-pos. [mm]']
ylabels = ['Prediction $d$ [mm]', 'Label x-pos. [mm]', 'Label y-pos. [mm]',
           'Prediction $d$ [mm]', 'Label x-pos. [mm]', 'Label y-pos. [mm]']
d_ticks_x = [2.5, 5.0, 7.5, 10.0]
d_ticks_y = [2, 4, 6, 8, 10]
pos_ticks = [0, 10, 20, 30]


def strips(levels, ylists):
    xs, ys = [], []
    for lv, yl in zip(levels, ylists):
        xs.extend([lv] * len(yl))
        ys.extend(yl)
    return xs, ys


W, H = 1004, 609
fig = plt.figure(figsize=(W / 100, H / 100), dpi=100)

col_px = [(69, 247), (407, 248), (744, 249)]
row_px = [(33, 241), (344, 552)]


def make_ax(r, c):
    l, w = col_px[c]
    t, b = row_px[r]
    return fig.add_axes([l / W, (H - b) / H, w / W, (b - t) / H])


RED = '#ff0000'
TICK_FS = 13
LABEL_FS = 13.8
TITLE_FS = 15.5
RMSE_FS = 13.5

d_strip_x, d_strip_y = strips(d_levels, [d_y_15, d_y_30, d_y_45, d_y_60, d_y_75])
e_strip_x, e_strip_y = strips(e_levels, [e_y_0, e_y_10, e_y_20, e_y_30])
f_strip_x, f_strip_y = strips(f_levels, [f_y_0, f_y_10, f_y_20, f_y_30])

panels = [
    (0, 0, a_x + a_x2 + a_x3, a_y + a_y2 + a_y3, a_fit_x, a_fit_y, a_band_lo, a_band_hi, 'cont', (10.15, 2.12)),
    (0, 1, b_x + b_x2 + b_x3, b_y + b_y2 + b_y3, b_fit_x, b_fit_y, b_band_lo, b_band_hi, 'cont', (30.0, 1.8)),
    (0, 2, c_x + c_x2 + c_x3, c_y + c_y2 + c_y3, c_fit_x, c_fit_y, c_band_lo, c_band_hi, 'cont', (29.9, 1.9)),
    (1, 0, d_strip_x, d_strip_y, d_fit_x, d_fit_y, d_band_lo, d_band_hi, 'disc', (7.74, 1.38)),
    (1, 1, e_strip_x, e_strip_y, e_fit_x, e_fit_y, e_band_lo, e_band_hi, 'disc', (29.6, 1.5)),
    (1, 2, f_strip_x, f_strip_y, f_fit_x, f_fit_y, f_band_lo, f_band_hi, 'disc', (29.8, 1.5)),
]

for i, (r, c, xs, ys, fx, fy, lo, hi, kind, txy) in enumerate(panels):
    ax = make_ax(r, c)
    ax.fill_between(fx, lo, hi, color=RED, alpha=0.2, linewidth=1.0)
    ax.plot(fx, fy, color=RED, lw=1.6)
    if kind == 'cont':
        ax.scatter(xs, ys, s=5, c='black', alpha=0.5, linewidths=0.4, zorder=3)
    else:
        ax.scatter(xs, ys, s=3.5, c='black', marker='s', alpha=0.9, linewidths=0, zorder=3)
    ax.text(txy[0], txy[1], f'RMSE: {rmse_values[i]:.2f}', ha='right', va='baseline',
            fontsize=RMSE_FS, zorder=4)
    ax.set_title(titles[i], fontsize=TITLE_FS, pad=6)
    ax.set_xlabel(xlabels[i], fontsize=LABEL_FS, labelpad=3)
    ax.set_ylabel(ylabels[i], fontsize=LABEL_FS, labelpad=3)
    if c == 0:
        ax.set_xlim(0.55, 10.45)
        ax.set_ylim(0.73, 10.5)
        ax.set_xticks(d_ticks_x)
        ax.set_xticklabels([f'{v:.1f}' for v in d_ticks_x])
        ax.set_yticks(d_ticks_y)
    else:
        ax.set_xlim(-1.0, 31.0)
        ax.set_ylim(-5.0, 35.1)
        ax.set_xticks(pos_ticks)
        ax.set_yticks(pos_ticks)
    ax.tick_params(labelsize=TICK_FS)
    for sp in ax.spines.values():
        sp.set_color('#333333')

fig.savefig('out.png', dpi=100)
